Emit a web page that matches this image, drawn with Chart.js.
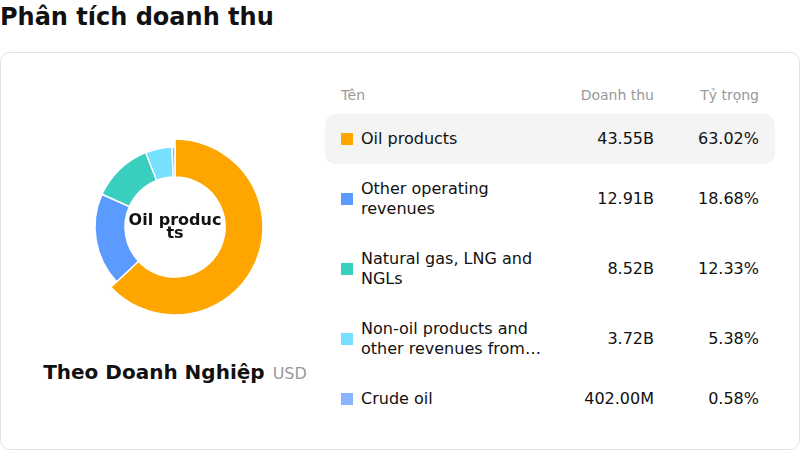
<!DOCTYPE html>
<html lang="vi">
<head>
<meta charset="utf-8">
<title>Phân tích doanh thu</title>
<script src="https://cdn.jsdelivr.net/npm/chart.js@4.4.1/dist/chart.umd.min.js"></script>
<style>
  * { box-sizing: border-box; }
  body {
    margin: 0; width: 800px; height: 450px; overflow: hidden; position: relative;
    font-family: "DejaVu Sans", sans-serif; color: #111; background: #fff;
  }
  h1 { position: absolute; left: 0; top: 5px; margin: 0; font-size: 24px; line-height: 24px; font-weight: bold; }
  .card {
    position: absolute; left: 0; top: 52px; width: 800px; height: 398px;
    border: 1px solid #e2e2ec; border-radius: 10px;
  }
  .donut { position: absolute; left: 75px; top: 127px; width: 200px; height: 200px; }
  .center {
    position: absolute; inset: 0; display: flex; align-items: center; justify-content: center;
    pointer-events: none;
  }
  .center div {
    width: 96px; text-align: center; word-break: break-all;
    font-weight: bold; font-size: 16px; line-height: 13.5px; margin-top: -2px;
  }
  .caption {
    position: absolute; left: 0; top: 360px; width: 350px;
    display: flex; justify-content: center; align-items: baseline; gap: 8px;
  }
  .caption b { font-size: 20px; }
  .caption span { font-size: 16px; color: #999; }
  .table { position: absolute; left: 325px; top: 85px; width: 450px; }
  .row {
    display: grid; grid-template-columns: 203px 110px 105px; align-items: center;
    padding: 15px 16px; font-size: 16px; line-height: 20px; border-radius: 10px;
  }
  .row.head { padding: 0 16px 9px; font-size: 14px; color: #999; }
  .row.sel { background: #f4f4f4; }
  .num { text-align: right; }
  .name { display: flex; align-items: center; gap: 8px; }
  .sq { flex: none; width: 12px; height: 12px; }
  .txt {
    width: 183px; display: -webkit-box; -webkit-box-orient: vertical; -webkit-line-clamp: 2;
    overflow: hidden; text-overflow: ellipsis;
  }
</style>
</head>
<body>
<h1>Phân tích doanh thu</h1>
<div class="card"></div>
<div class="donut">
  <canvas id="revChart"></canvas>
  <div class="center"><div id="centerLabel"></div></div>
</div>
<div class="caption"><b>Theo Doanh Nghiệp</b><span>USD</span></div>
<div class="table" id="revTable"></div>

<script>
const $ = id => document.getElementById(id);

// revenue by segment (USD)
const segments = [
  "Oil products",
  "Other operating revenues",
  "Natural gas, LNG and NGLs",
  "Non-oil products and other revenues from services",
  "Crude oil"
];
const revenue = [43.55e9, 12.91e9, 8.52e9, 3.72e9, 402.00e6];
const share = [63.02, 18.68, 12.33, 5.38, 0.58];
const colors = ["#ffa500", "#5b9bff", "#38cfbf", "#76e0ff", "#88b4ff"];
const selected = 0;

const money = v => v >= 1e9 ? (v / 1e9).toFixed(2) + "B" : (v / 1e6).toFixed(2) + "M";

// selected slice sticks out a little
const growSelected = {
  id: "growSelected",
  afterDatasetsUpdate(chart) {
    const arc = chart.getDatasetMeta(0).data[selected];
    if (arc) arc.outerRadius += 8;
  }
};

new Chart($("revChart"), {
  type: "doughnut",
  data: {
    labels: segments,
    datasets: [{
      data: revenue,
      backgroundColor: colors,
      borderColor: "#fff",
      borderWidth: 1.5
    }]
  },
  options: {
    responsive: true,
    maintainAspectRatio: false,
    animation: false,
    events: [],
    radius: 80,
    cutout: "62.5%",
    plugins: { legend: { display: false }, tooltip: { enabled: false } }
  },
  plugins: [growSelected]
});

$("centerLabel").textContent = segments[selected];

const head = `<div class="row head"><div>Tên</div><div class="num">Doanh thu</div><div class="num">Tỷ trọng</div></div>`;
const body = segments.map((s, i) => `<div class="row${i === selected ? " sel" : ""}">
    <div class="name"><span class="sq" style="background:${colors[i]}"></span><span class="txt">${s}</span></div>
    <div class="num">${money(revenue[i])}</div>
    <div class="num">${share[i].toFixed(2)}%</div>
  </div>`).join("");
$("revTable").innerHTML = head + body;
</script>
</body>
</html>
